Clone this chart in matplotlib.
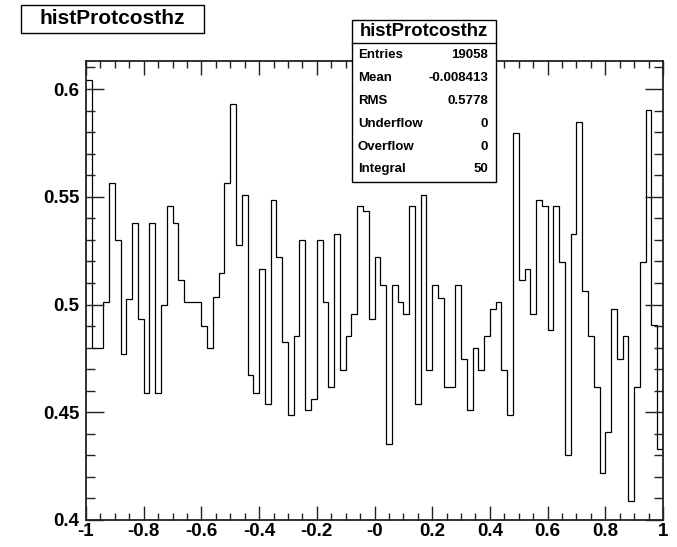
"""
ROOT-style histogram: histProtcosthz
"""
import matplotlib
matplotlib.use('Agg')
import matplotlib.pyplot as plt
from matplotlib.patches import Rectangle
from matplotlib.ticker import MultipleLocator, FixedLocator
import numpy as np

# histogram contents (100 bins from -1 to 1)
x_min, x_max, n_bins = -1.0, 1.0, 100
bin_values = [
    0.604, 0.480, 0.480, 0.501, 0.5565, 0.530, 0.477, 0.5025, 0.5376, 0.4934,
    0.459, 0.5376, 0.459, 0.500, 0.5457, 0.5376, 0.5113, 0.501, 0.501, 0.501,
    0.490, 0.480, 0.5035, 0.5144, 0.5565, 0.593, 0.5276, 0.5508, 0.4672, 0.459,
    0.5167, 0.4537, 0.5484, 0.5221, 0.4827, 0.4486, 0.4853, 0.5299, 0.4509, 0.4563,
    0.5299, 0.501, 0.4618, 0.5327, 0.4695, 0.4853, 0.4958, 0.5457, 0.5435, 0.4935,
    0.5221, 0.509, 0.4355, 0.509, 0.501, 0.4958, 0.5457, 0.454, 0.5508, 0.4695,
    0.509, 0.5032, 0.4618, 0.4618, 0.509, 0.4749, 0.4509, 0.480, 0.4695, 0.4853,
    0.4981, 0.501, 0.4695, 0.4486, 0.5797, 0.5113, 0.5164, 0.4958, 0.5484, 0.5457,
    0.4881, 0.5457, 0.5195, 0.430, 0.5327, 0.5848, 0.5063, 0.4853, 0.4618, 0.422,
    0.4409, 0.4981, 0.4749, 0.4853, 0.4087, 0.4618, 0.5195, 0.5902, 0.4904, 0.4331,
]

x_ticks = [-1, -0.8, -0.6, -0.4, -0.2, 0, 0.2, 0.4, 0.6, 0.8, 1]
x_tick_labels = ['-1', '-0.8', '-0.6', '-0.4', '-0.2', '-0', '0.2', '0.4', '0.6', '0.8', '1']
y_ticks = [0.4, 0.45, 0.5, 0.55, 0.6]
y_tick_labels = ['0.4', '0.45', '0.5', '0.55', '0.6']

hist_name = 'histProtcosthz'
stat_names = ['Entries', 'Mean', 'RMS', 'Underflow', 'Overflow', 'Integral']
stat_values = ['19058', '-0.008413', '0.5778', '0', '0', '50']

plt.rcParams['font.family'] = ['Liberation Sans', 'DejaVu Sans']

W, H = 677, 547
fig = plt.figure(figsize=(W / 100, H / 100), dpi=100)
fig.patch.set_facecolor('white')


def fx(px):
    return px / W


def fy(py):
    return 1 - py / H


# frame in pixels: left 86, right 663, top 61, bottom 520
ax = fig.add_axes([fx(86), fy(520), fx(663 - 86), (520 - 61) / H])

edges = np.linspace(x_min, x_max, n_bins + 1)
ax.stairs(bin_values, edges, color='black', linewidth=0.9, baseline=None)

ax.set_xlim(x_min, x_max)
ax.set_ylim(0.4, 0.613)

ax.xaxis.set_major_locator(FixedLocator(x_ticks))
ax.set_xticklabels(x_tick_labels)
ax.xaxis.set_minor_locator(MultipleLocator(0.05))
ax.yaxis.set_major_locator(FixedLocator(y_ticks))
ax.set_yticklabels(y_tick_labels)
ax.yaxis.set_minor_locator(MultipleLocator(0.01))

ax.tick_params(which='both', direction='in', top=True, right=True, width=1.0, color='#222222')
ax.tick_params(axis='x', which='major', length=10, pad=2)
ax.tick_params(axis='x', which='minor', length=5)
ax.tick_params(axis='y', which='major', length=13, pad=4.5)
ax.tick_params(axis='y', which='minor', length=6.5)
for lab in ax.get_xticklabels() + ax.get_yticklabels():
    lab.set_fontsize(13.5)
    lab.set_fontweight('bold')
for sp in ax.spines.values():
    sp.set_linewidth(1.3)
    sp.set_color('#222222')

# title box (top left)
fig.patches.append(Rectangle((fx(21), fy(33)), fx(204 - 21), (33 - 5) / H,
                             transform=fig.transFigure, facecolor='white',
                             edgecolor='black', linewidth=1.0))
fig.text(fx(112.5), fy(19), hist_name, ha='center', va='center',
         fontsize=15, fontweight='bold')

# statistics box
box_l, box_r, box_t, box_b = 352, 496, 20, 182
fig.patches.append(Rectangle((fx(box_l), fy(box_b)), fx(box_r - box_l), (box_b - box_t) / H,
                             transform=fig.transFigure, facecolor='white',
                             edgecolor='black', linewidth=1.0, zorder=5))
fig.add_artist(plt.Line2D([fx(box_l), fx(box_r)], [fy(43), fy(43)],
                          transform=fig.transFigure, color='black', linewidth=1.0, zorder=6))
fig.text(fx(424), fy(32), hist_name, ha='center', va='center',
         fontsize=13.3, fontweight='bold', zorder=7)

row_y = [55, 78, 101, 124, 147, 169]
for name, val, yy in zip(stat_names, stat_values, row_y):
    fig.text(fx(358), fy(yy), name, ha='left', va='center',
             fontsize=9.5, fontweight='bold', zorder=7)
    fig.text(fx(488), fy(yy), val, ha='right', va='center',
             fontsize=9.5, fontweight='bold', zorder=7)

fig.savefig('out.png', dpi=100)
